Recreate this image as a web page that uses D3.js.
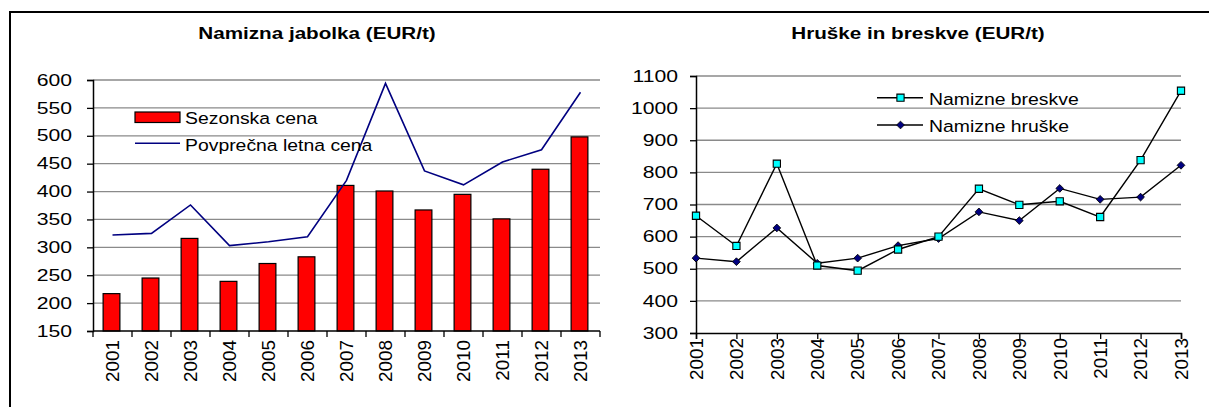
<!DOCTYPE html>
<html><head><meta charset="utf-8">
<script src="https://cdn.jsdelivr.net/npm/d3@7"></script>
<style>
body{margin:0;background:#fff;}
svg{display:block;font-family:"Liberation Sans",Arial,sans-serif;}
</style></head>
<body>
<svg id="c" width="1209" height="407"></svg>
<script>
const years = ["2001","2002","2003","2004","2005","2006","2007","2008","2009","2010","2011","2012","2013"];
const sezonskaCena = [217,245,316,239,271,283,411,401,367,395,351,440,498];
const povprecnaLetnaCena = [322,325,376,303,310,319,420,594,437,412,453,475,578];
const namizneBreskve = [665,571,827,510,494,560,600,749,699,710,661,838,1054];
const namizneHruske = [533,522,627,517,533,572,594,677,650,750,716,723,822];
const leftTicks = [150,200,250,300,350,400,450,500,550,600];
const rightTicks = [300,400,500,600,700,800,900,1000,1100];

const svg = d3.select("#c");
const GRID = "#8a8a8a";

function stretch(sel,k){
  sel.each(function(){
    const l=this.getComputedTextLength();
    this.setAttribute("textLength",(l*k).toFixed(1));
    this.setAttribute("lengthAdjust","spacingAndGlyphs");
  });
}

// frame
svg.append("rect").attr("x",10).attr("y",12).attr("width",1400).attr("height",600)
  .attr("fill","none").attr("stroke","#000").attr("stroke-width",2);

// ---------- Left chart ----------
const L = {x0:93, x1:600, y0:80, y1:331};
const xL = d3.scaleBand().domain(years).range([L.x0,L.x1]).padding(0);
const yL = d3.scaleLinear().domain([150,600]).range([L.y1,L.y0]);
const gL = svg.append("g");

gL.append("g").selectAll("line").data(leftTicks.filter(d=>d>150)).join("line")
  .attr("x1",L.x0).attr("x2",L.x1).attr("y1",d=>yL(d)).attr("y2",d=>yL(d))
  .attr("stroke",GRID).attr("stroke-width",1.3);

const bw = xL.bandwidth()*0.43;
gL.append("g").selectAll("rect").data(years).join("rect")
  .attr("x",(d)=>xL(d)+xL.bandwidth()/2-bw/2-1)
  .attr("width",bw)
  .attr("y",(d,i)=>yL(sezonskaCena[i]))
  .attr("height",(d,i)=>yL(150)-yL(sezonskaCena[i]))
  .attr("fill","#ff0000").attr("stroke","#000").attr("stroke-width",1.2);

gL.append("path").datum(povprecnaLetnaCena)
  .attr("d",d3.line().x((d,i)=>xL(years[i])+xL.bandwidth()/2).y(d=>yL(d)))
  .attr("fill","none").attr("stroke","#000080").attr("stroke-width",1.6);

const ayL = gL.append("g").attr("transform",`translate(${L.x0},0)`)
  .call(d3.axisLeft(yL).tickValues(leftTicks).tickFormat(d3.format("d")).tickSize(6).tickPadding(15));
ayL.select(".domain").attr("stroke","#000").attr("stroke-width",1.5);
ayL.selectAll(".tick line").attr("stroke","#000").attr("stroke-width",1.3);
ayL.selectAll("text").attr("font-size",16.3).attr("fill","#000").attr("font-family","Liberation Sans, Arial").call(stretch,1.3);

// x axis left
const axL = gL.append("g").attr("transform",`translate(0,${L.y1})`)
  .call(d3.axisBottom(xL).tickSize(0));
axL.select(".domain").remove();
gL.append("line").attr("x1",L.x0).attr("x2",L.x1).attr("y1",L.y1).attr("y2",L.y1)
  .attr("stroke","#000").attr("stroke-width",1.5);
gL.append("g").selectAll("line").data(years.concat(["end"])).join("line")
  .attr("x1",(d,i)=> i<years.length ? xL(d) : L.x1)
  .attr("x2",(d,i)=> i<years.length ? xL(d) : L.x1)
  .attr("y1",L.y1).attr("y2",L.y1+6).attr("stroke","#000").attr("stroke-width",1.3);
axL.selectAll("text").attr("font-size",18).attr("fill","#000").attr("font-family","Liberation Sans, Arial")
  .attr("transform","rotate(-90)").attr("text-anchor","end").attr("x",-9).attr("y",0).attr("dy","0.35em")
  .call(stretch,1.05);

// left legend
gL.append("rect").attr("x",135).attr("y",112).attr("width",45).attr("height",10.5)
  .attr("fill","#ff0000").attr("stroke","#000").attr("stroke-width",1.2);
gL.append("line").attr("x1",135).attr("x2",180).attr("y1",143.3).attr("y2",143.3)
  .attr("stroke","#000080").attr("stroke-width",1.6);
gL.append("text").attr("x",185).attr("y",124).attr("font-size",16.3).text("Sezonska cena").call(stretch,1.19);
gL.append("text").attr("x",185).attr("y",150.5).attr("font-size",16.3).text("Povprečna letna cena").call(stretch,1.19);

// title left
svg.append("text").attr("x",317).attr("y",39).attr("text-anchor","middle")
  .attr("font-size",16).attr("font-weight","bold").text("Namizna jabolka (EUR/t)").call(stretch,1.29);

// ---------- Right chart ----------
const R = {x0:696, x1:1181, y0:76, y1:333};
const xR = d3.scalePoint().domain(years).range([R.x0,R.x1]).padding(0);
const yR = d3.scaleLinear().domain([300,1100]).range([R.y1,R.y0]);
const gR = svg.append("g");

gR.append("g").selectAll("line").data(rightTicks.filter(d=>d>300)).join("line")
  .attr("x1",R.x0).attr("x2",R.x1).attr("y1",d=>yR(d)).attr("y2",d=>yR(d))
  .attr("stroke",GRID).attr("stroke-width",1.3);

const ayR = gR.append("g").attr("transform",`translate(${R.x0},0)`)
  .call(d3.axisLeft(yR).tickValues(rightTicks).tickFormat(d3.format("d")).tickSize(6).tickPadding(12));
ayR.select(".domain").attr("stroke","#000").attr("stroke-width",1.5);
ayR.selectAll(".tick line").attr("stroke","#000").attr("stroke-width",1.3);
ayR.selectAll("text").attr("font-size",16.3).attr("fill","#000").attr("font-family","Liberation Sans, Arial").call(stretch,1.3);

const axR = gR.append("g").attr("transform",`translate(0,${R.y1})`)
  .call(d3.axisBottom(xR).tickSize(6));
axR.select(".domain").attr("stroke","#000").attr("stroke-width",1.5);
axR.selectAll(".tick line").attr("stroke","#000").attr("stroke-width",1.3);
axR.selectAll("text").attr("font-size",18).attr("fill","#000").attr("font-family","Liberation Sans, Arial")
  .attr("transform","rotate(-90)").attr("text-anchor","end").attr("x",-5).attr("y",0).attr("dy","0.35em")
  .call(stretch,1.05);

const lineR = d3.line().x((d,i)=>xR(years[i])).y(d=>yR(d));
gR.append("path").datum(namizneBreskve).attr("d",lineR).attr("fill","none").attr("stroke","#000").attr("stroke-width",1.4);
gR.append("path").datum(namizneHruske).attr("d",lineR).attr("fill","none").attr("stroke","#000").attr("stroke-width",1.4);

const sq = d3.symbol().type(d3.symbolSquare).size(52);
const dm = d3.symbol().type(d3.symbolSquare).size(30);
gR.append("g").selectAll("path").data(namizneHruske).join("path")
  .attr("d",dm).attr("transform",(d,i)=>`translate(${xR(years[i])},${yR(d)}) rotate(45)`)
  .attr("fill","#000080").attr("stroke","#000").attr("stroke-width",0.8);
gR.append("g").selectAll("path").data(namizneBreskve).join("path")
  .attr("d",sq).attr("transform",(d,i)=>`translate(${xR(years[i])},${yR(d)})`)
  .attr("fill","#00ffff").attr("stroke","#000").attr("stroke-width",1.1);

// right legend
gR.append("line").attr("x1",877).attr("x2",923).attr("y1",97.7).attr("y2",97.7).attr("stroke","#000").attr("stroke-width",1.4);
gR.append("path").attr("d",sq).attr("transform","translate(900.5,97.7)").attr("fill","#00ffff").attr("stroke","#000").attr("stroke-width",1.1);
gR.append("line").attr("x1",877).attr("x2",923).attr("y1",125).attr("y2",125).attr("stroke","#000").attr("stroke-width",1.4);
gR.append("path").attr("d",dm).attr("transform","translate(900.5,125) rotate(45)").attr("fill","#000080").attr("stroke","#000").attr("stroke-width",0.8);
gR.append("text").attr("x",929).attr("y",104.5).attr("font-size",16.3).text("Namizne breskve").call(stretch,1.19);
gR.append("text").attr("x",929).attr("y",131.5).attr("font-size",16.3).text("Namizne hruške").call(stretch,1.19);

// title right
svg.append("text").attr("x",918).attr("y",39).attr("text-anchor","middle")
  .attr("font-size",16).attr("font-weight","bold").text("Hruške in breskve (EUR/t)").call(stretch,1.29);
</script>
</body></html>
